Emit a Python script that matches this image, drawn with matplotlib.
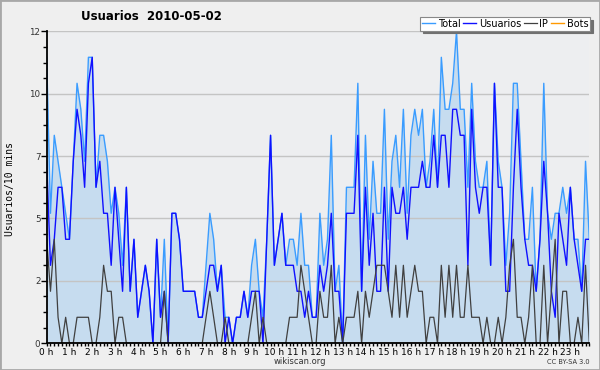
import numpy as np
import matplotlib.pyplot as plt
from matplotlib.ticker import MultipleLocator
from matplotlib.patches import Rectangle

# -------- datos: 2010-05-02, un punto cada 10 min --------
total = [11, 5, 8, 7, 6, 5, 4, 7, 10, 9,
         7, 11, 11, 6, 8, 8, 7, 5, 6, 5,
         3, 6, 2, 4, 1, 2, 3, 2, 0, 4,
         1, 4, 0, 5, 5, 4, 2, 2, 2, 2,
         1, 1, 3, 5, 4, 2, 3, 1, 1, 0,
         1, 1, 2, 1, 3, 4, 2, 1, 4, 8,
         3, 4, 5, 3, 4, 4, 3, 5, 3, 3,
         1, 1, 5, 3, 4, 8, 2, 3, 0, 6,
         6, 6, 10, 2, 8, 4, 7, 5, 5, 9,
         4, 7, 8, 6, 9, 5, 8, 9, 8, 9,
         6, 7, 9, 6, 11, 9, 9, 10, 12, 9,
         9, 6, 10, 7, 6, 6, 7, 3, 10, 7,
         6, 3, 5, 10, 10, 7, 4, 4, 6, 2,
         4, 10, 5, 4, 5, 5, 6, 5, 6, 4,
         4, 2, 7, 4]

usuarios = [7, 3, 4, 6, 6, 4, 4, 7, 9, 8,
            6, 10, 11, 6, 7, 5, 5, 3, 6, 4,
            2, 6, 2, 4, 1, 2, 3, 2, 0, 4,
            1, 2, 0, 5, 5, 4, 2, 2, 2, 2,
            1, 1, 2, 3, 3, 2, 3, 0, 1, 0,
            1, 1, 2, 1, 2, 2, 2, 0, 4, 8,
            3, 4, 5, 3, 3, 3, 2, 2, 1, 2,
            1, 1, 3, 2, 3, 5, 2, 2, 0, 5,
            5, 5, 8, 2, 6, 3, 5, 2, 2, 6,
            2, 6, 5, 5, 6, 4, 6, 6, 6, 7,
            6, 6, 8, 6, 8, 8, 6, 9, 9, 8,
            8, 3, 9, 6, 5, 6, 6, 3, 10, 6,
            6, 2, 2, 6, 9, 6, 4, 3, 3, 2,
            4, 7, 5, 2, 1, 5, 4, 3, 6, 4,
            3, 2, 4, 4]

ip = [4, 2, 4, 1, 0, 1, 0, 0, 1, 1,
      1, 1, 0, 0, 1, 3, 2, 2, 0, 1,
      1, 0, 0, 0, 0, 0, 0, 0, 0, 0,
      0, 2, 0, 0, 0, 0, 0, 0, 0, 0,
      0, 0, 1, 2, 1, 0, 0, 1, 0, 0,
      0, 0, 0, 0, 1, 2, 0, 1, 0, 0,
      0, 0, 0, 0, 1, 1, 1, 3, 2, 1,
      0, 0, 2, 1, 1, 3, 0, 1, 0, 1,
      1, 1, 2, 0, 2, 1, 2, 3, 3, 3,
      2, 1, 3, 1, 3, 1, 2, 3, 2, 2,
      0, 1, 1, 0, 3, 1, 3, 1, 3, 1,
      1, 3, 1, 1, 1, 0, 1, 0, 0, 1,
      0, 1, 3, 4, 1, 1, 0, 1, 3, 0,
      0, 3, 0, 2, 4, 0, 2, 2, 0, 0,
      1, 0, 3, 0]

bots = [0] * 144

hour_labels = [f"{h} h" for h in range(24)]
ytick_vals = [0, 2.4, 4.8, 7.2, 9.6, 12]
ytick_labels = ["0", "2", "5", "7", "10", "12"]

# -------- figura --------
fig = plt.figure(figsize=(6, 3.7), dpi=100, facecolor='#efefef')
ax = fig.add_axes([0.0778, 0.0722, 0.9044, 0.8432], facecolor='#edeef0')

x = np.arange(len(total))
ax.fill_between(x, total, color='#c6dcef', lw=0, zorder=1)
for yv in ytick_vals:
    ax.axhline(yv, color='#c4c4c4', lw=1, zorder=1.2)

l_bot, = ax.plot(x, bots, color='#ff9900', lw=1, label='Bots', zorder=1.5)
l_tot, = ax.plot(x, total, color='#3a9cff', lw=1, label='Total', zorder=2)
l_usr, = ax.plot(x, usuarios, color='#1010ff', lw=1, label='Usuarios', zorder=3)
l_ip,  = ax.plot(x, ip, color='#404040', lw=0.9, label='IP', zorder=4)

ax.set_xlim(0, len(total) - 1)
ax.set_ylim(0, 12)
ax.set_xticks(range(0, 144, 6), hour_labels)
ax.xaxis.set_minor_locator(MultipleLocator(1))
ax.set_yticks(ytick_vals, ytick_labels)
ax.yaxis.set_minor_locator(MultipleLocator(0.6))

ax.tick_params(axis='x', which='major', labelsize=6.5, length=2.5, width=1, pad=0.6)
ax.tick_params(axis='x', which='minor', length=2.5, width=1)
ax.tick_params(axis='y', which='major', labelsize=6.3, length=4, width=1, pad=0.5,
               labelcolor='#333333')
ax.tick_params(axis='y', which='minor', length=2.8, width=1)

for s in ['top', 'right']:
    ax.spines[s].set_visible(False)
for s in ['left', 'bottom']:
    ax.spines[s].set_linewidth(1.3)
    ax.spines[s].set_zorder(5)

fig.text(0.252, 0.955, "Usuarios  2010-05-02", fontsize=8.5, fontweight='bold',
         ha='center', va='center')
fig.text(0.0175, 0.49, "Usuarios/10 mins", fontsize=7, family='DejaVu Sans Mono',
         rotation=90, ha='center', va='center')

leg = ax.legend([l_tot, l_usr, l_ip, l_bot], ['Total', 'Usuarios', 'IP', 'Bots'],
                loc='lower right', bbox_to_anchor=(0.984, 0.917),
                bbox_transform=fig.transFigure, ncol=4, fontsize=7,
                frameon=True, fancybox=False, framealpha=1, borderpad=0.2,
                handlelength=1.3, handletextpad=0.3, columnspacing=0.3,
                borderaxespad=0, shadow={'color': '#707070', 'alpha': 1})
leg.get_frame().set_edgecolor('#888888')
leg.get_frame().set_linewidth(0.8)
leg.set_zorder(10)

fig.text(0.5, 0.023, "wikiscan.org", fontsize=6, color='#333333',
         ha='center', va='center')
fig.text(0.948, 0.021, "CC BY-SA 3.0", fontsize=4.8, color='#333333',
         ha='center', va='center')

fig.patches.append(Rectangle((0, 0), 1, 1, transform=fig.transFigure, fill=False,
                             edgecolor='#a8a8a8', lw=2))

fig.savefig('out.png', dpi=100, facecolor=fig.get_facecolor())
